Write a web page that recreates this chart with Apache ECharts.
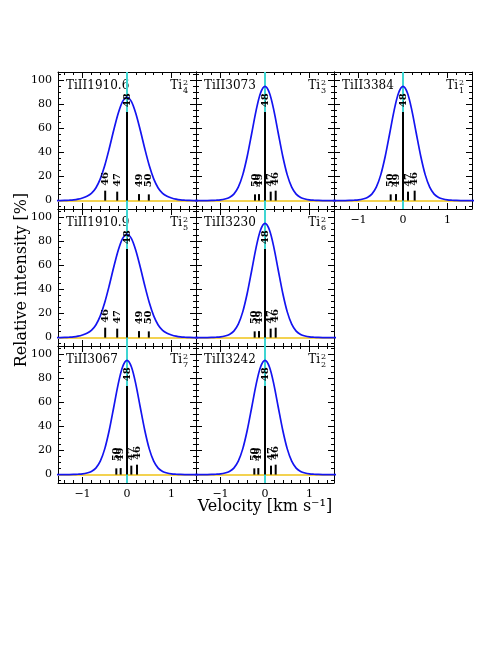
<!DOCTYPE html>
<html>
<head>
<meta charset="utf-8">
<script src="https://cdn.jsdelivr.net/npm/echarts@6/dist/echarts.min.js"></script>
<style>
  html, body { margin: 0; padding: 0; background: #fff; }
  #chart { width: 498px; height: 645px; }
</style>
</head>
<body>
<div id="chart"></div>
<script>
// velocity grid (km/s) and line profiles
const velocity = [-1.6, -1.5, -1.4, -1.3, -1.2, -1.1, -1.0, -0.9, -0.8, -0.7, -0.6, -0.5, -0.4, -0.3, -0.2, -0.1, 0,
  0.1, 0.2, 0.3, 0.4, 0.5, 0.6, 0.7, 0.8, 0.9, 1.0, 1.1, 1.2, 1.3, 1.4, 1.5, 1.6];
const profileWide = [0, 0, 0.1, 0.3, 0.6, 1.2, 2.2, 3.6, 6.0, 10.5, 18.1, 29.2, 43.1, 58.3, 72.3, 82.4, 86,
  82.4, 72.3, 58.3, 43.1, 29.2, 18.1, 10.5, 6.0, 3.6, 2.2, 1.2, 0.6, 0.3, 0.1, 0, 0];
const profileNarrow = [0, 0, 0, 0, 0.1, 0.3, 0.6, 1.3, 2.6, 5.4, 11.2, 21.4, 36.7, 55.6, 74.9, 89.5, 95,
  89.5, 74.9, 55.6, 36.7, 21.4, 11.2, 5.4, 2.6, 1.3, 0.6, 0.3, 0.1, 0, 0, 0, 0];

// isotopes and their relative abundance (%)
const isotopes = ['46', '47', '48', '49', '50'];
const abundance = [8.25, 7.44, 73.72, 5.41, 5.18];

// isotope shifts (km/s) per line, same order as isotopes
const shift1910_6 = [-0.49, -0.22, 0, 0.27, 0.49];
const shift3073 = [0.24, 0.128, 0, -0.135, -0.225];
const shift3384 = [0.262, 0.112, 0, -0.157, -0.277];
const shift1910_9 = [-0.49, -0.22, 0, 0.27, 0.49];
const shift3230 = [0.24, 0.127, 0, -0.135, -0.232];
const shift3067 = [0.225, 0.097, 0, -0.142, -0.24];
const shift3242 = [0.24, 0.135, 0, -0.15, -0.24];

const lineNames = ['TiII1910.6', 'TiII3073', 'TiII3384', 'TiII1910.9', 'TiII3230', 'TiII3067', 'TiII3242'];
const lineIndex = ['4', '3', '1', '5', '6', '7', '2'];
const lineShifts = [shift1910_6, shift3073, shift3384, shift1910_9, shift3230, shift3067, shift3242];
const lineProfiles = [profileWide, profileNarrow, profileNarrow, profileWide, profileNarrow, profileNarrow, profileNarrow];

const xTicks = [-1, 0, 1];
const yTicks = [0, 20, 40, 60, 80, 100];

// layout
const panelRow = [0, 0, 0, 1, 1, 2, 2];
const panelCol = [0, 1, 2, 0, 1, 0, 1];
const colLeft = [58, 196, 334];
const rowTop = [72, 209, 346];
const W = 138, H = 137;
const XMIN = -1.55, XMAX = 1.55, YMIN = -7, YMAX = 107;
const serif = '"DejaVu Serif", "Liberation Serif", serif';

const chart = echarts.init(document.getElementById('chart'));

function xAxisOf(i, pos, minor, showLabel) {
  return {
    type: 'value', gridIndex: i, position: pos, min: XMIN, max: XMAX,
    splitNumber: minor ? 15 : 3,
    axisLine: { show: !minor, onZero: false, lineStyle: { color: '#000', width: 1 } },
    axisTick: { show: true, inside: true, length: minor ? 3 : 6, lineStyle: { color: '#000', width: 1 } },
    axisLabel: {
      show: showLabel, margin: 6, color: '#000', fontFamily: serif, fontSize: 11,
      formatter: v => xTicks.indexOf(v) >= 0 ? (v < 0 ? '\u2212' + Math.abs(v) : String(v)) : ''
    },
    splitLine: { show: false }
  };
}
function yAxisOf(i, pos, minor, showLabel) {
  return {
    type: 'value', gridIndex: i, position: pos, min: YMIN, max: YMAX,
    splitNumber: minor ? 23 : 6,
    axisLine: { show: !minor, onZero: false, lineStyle: { color: '#000', width: 1 } },
    axisTick: { show: true, inside: true, length: minor ? 3 : 6, lineStyle: { color: '#000', width: 1 } },
    axisLabel: {
      show: showLabel, margin: 6, color: '#000', fontFamily: serif, fontSize: 11,
      formatter: v => yTicks.indexOf(v) >= 0 ? String(v) : ''
    },
    splitLine: { show: false }
  };
}

const grid = [], xAxis = [], yAxis = [], series = [], texts = [];

lineNames.forEach((name, i) => {
  const left = colLeft[panelCol[i]], top = rowTop[panelRow[i]];
  grid.push({ left: left, top: top, width: W, height: H, containLabel: false });
  const showX = panelRow[i] === 2 || i === 2;
  const showY = panelCol[i] === 0;
  xAxis.push(xAxisOf(i, 'bottom', false, showX), xAxisOf(i, 'bottom', true, false),
             xAxisOf(i, 'top', false, false), xAxisOf(i, 'top', true, false));
  yAxis.push(yAxisOf(i, 'left', false, showY), yAxisOf(i, 'left', true, false),
             yAxisOf(i, 'right', false, false), yAxisOf(i, 'right', true, false));

  // reference lines: baseline and rest velocity (kept under the profile and sticks)
  series.push({
    type: 'line', xAxisIndex: 4 * i, yAxisIndex: 4 * i, data: [], z: 1, silent: true,
    markLine: {
      z: 1, symbol: 'none', silent: true, animation: false, label: { show: false },
      data: [
        { yAxis: 0, lineStyle: { color: '#f3d250', width: 2, type: 'solid' } },
        { xAxis: 0, lineStyle: { color: '#3fd6d2', width: 2, type: 'solid' } }
      ]
    }
  });
  // line profile
  series.push({
    type: 'line', xAxisIndex: 4 * i, yAxisIndex: 4 * i, z: 3,
    data: velocity.map((v, k) => [v, lineProfiles[i][k]]),
    smooth: 0.3, showSymbol: false, symbol: 'none', animation: false,
    lineStyle: { color: '#1414f0', width: 1.7 }
  });
  // isotope sticks with labels
  series.push({
    type: 'custom', xAxisIndex: 4 * i, yAxisIndex: 4 * i, z: 6, animation: false,
    data: lineShifts[i].map((s, k) => [s, abundance[k]]),
    encode: { x: 0, y: 1 },
    renderItem: (params, api) => {
      const x = api.value(0), h = api.value(1);
      const p0 = api.coord([x, 0]), p1 = api.coord([x, h]);
      const pl = api.coord([x, Math.max(h + 4, 11)]);
      return {
        type: 'group', children: [
          { type: 'line', shape: { x1: p0[0], y1: p0[1], x2: p1[0], y2: p1[1] },
            style: { stroke: '#000', lineWidth: 2 } },
          { type: 'text', x: pl[0], y: pl[1], rotation: Math.PI / 2,
            style: { text: isotopes[params.dataIndex], font: 'bold 10px ' + serif, fill: '#000',
                     align: 'left', verticalAlign: 'middle' } }
        ]
      };
    }
  });

  // panel labels
  texts.push({ type: 'text', x: left + 8, y: top + 14, silent: true,
    style: { text: name, font: '12px ' + serif, fill: '#000', align: 'left', verticalAlign: 'middle' } });
  texts.push({ type: 'text', x: left + W - 14, y: top + 14, silent: true,
    style: { text: 'Ti', font: '12px ' + serif, fill: '#000', align: 'right', verticalAlign: 'middle' } });
  texts.push({ type: 'text', x: left + W - 13, y: top + 11, silent: true,
    style: { text: '2', font: '8px ' + serif, fill: '#000', align: 'left', verticalAlign: 'middle' } });
  texts.push({ type: 'text', x: left + W - 13, y: top + 19, silent: true,
    style: { text: lineIndex[i], font: '8px ' + serif, fill: '#000', align: 'left', verticalAlign: 'middle' } });
});

texts.push({ type: 'text', x: 22, y: 280, rotation: Math.PI / 2, silent: true,
  style: { text: 'Relative intensity [%]', font: '16px ' + serif, fill: '#000', align: 'center', verticalAlign: 'middle' } });
texts.push({ type: 'text', x: 265, y: 507, silent: true,
  style: { text: 'Velocity [km s\u207B\u00B9]', font: '16px ' + serif, fill: '#000', align: 'center', verticalAlign: 'middle' } });

chart.setOption({
  animation: false,
  backgroundColor: '#fff',
  grid: grid,
  xAxis: xAxis,
  yAxis: yAxis,
  series: series,
  graphic: { elements: texts }
});
</script>
</body>
</html>
